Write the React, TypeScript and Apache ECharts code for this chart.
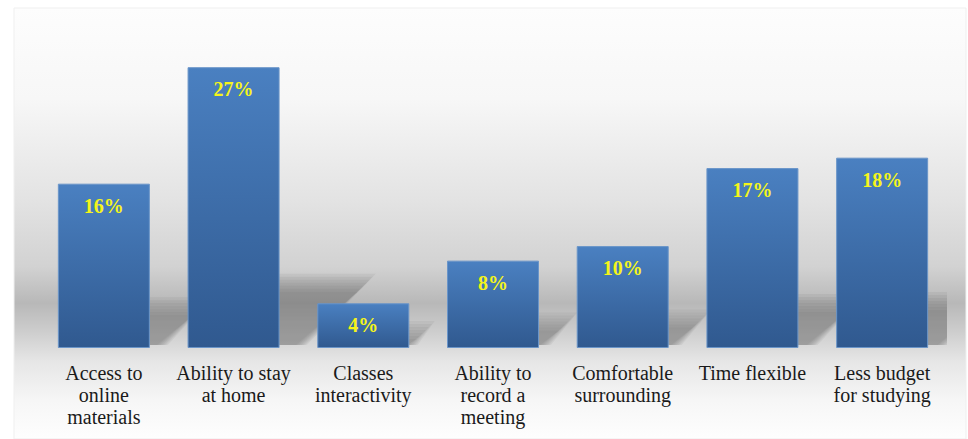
import React, { useEffect, useRef } from "react";
import * as echarts from "echarts";

const categories = [
  "Access to\nonline\nmaterials",
  "Ability to stay\nat home",
  "Classes\ninteractivity",
  "Ability to\nrecord a\nmeeting",
  "Comfortable\nsurrounding",
  "Time flexible",
  "Less budget\nfor studying",
];
const values = [15.8, 27, 4.3, 8.4, 9.8, 17.3, 18.3];

export default function App() {
  const ref = useRef<HTMLDivElement>(null);
  useEffect(() => {
    if (!ref.current) return;
    const chart = echarts.init(ref.current, null, { renderer: "svg" });
    const shadowData = values.map((v, i) => [i, v]);
    chart.setOption({
      animation: false,
      backgroundColor: "#ffffff",
      graphic: [
        {
          type: "rect",
          z: -10,
          silent: true,
          shape: { x: 14, y: 8, width: 952, height: 431 },
          style: {
            stroke: "#efefef",
            lineWidth: 1,
            fill: new echarts.graphic.LinearGradient(0, 0, 0, 1, [
              { offset: 0, color: "#fdfdfd" },
              { offset: 0.21, color: "#f7f7f7" },
              { offset: 0.445, color: "#e3e3e3" },
              { offset: 0.6, color: "#d2d2d2" },
              { offset: 0.685, color: "#b8b8b8" },
              { offset: 0.75, color: "#cdcdcd" },
              { offset: 0.82, color: "#e6e6e6" },
              { offset: 0.91, color: "#f6f6f6" },
              { offset: 1, color: "#fefefe" },
            ]),
          },
        },
      ],
      grid: { left: 39, right: 21, top: 36, bottom: 91, containLabel: false },
      xAxis: {
        type: "category",
        data: categories,
        axisLine: { show: false },
        axisTick: { show: false },
        axisLabel: {
          interval: 0,
          margin: 14,
          fontFamily: "'Liberation Serif', 'DejaVu Serif', serif",
          fontSize: 20,
          lineHeight: 22,
          color: "#1a1a1a",
        },
      },
      yAxis: {
        type: "value",
        min: 0,
        max: 30,
        show: false,
        splitLine: { show: false },
      },
      series: [
        {
          type: "custom",
          z: 1,
          silent: true,
          clip: true,
          data: shadowData,
          encode: { x: 0, y: 1 },
          renderItem: (params: any, api: any) => {
            const base = api.coord([api.value(0), 0]);
            const top = api.coord([api.value(0), api.value(1)]);
            const R = base[0] + 40;
            const B = base[1];
            const h = B - top[1];
            const children: any[] = [];
            const layers = 7;
            for (let k = layers - 1; k >= 0; k--) {
              const e = k * 3;
              children.push({
                type: "polygon",
                shape: {
                  points: [
                    [R, B - 3],
                    [R, B - 0.2 * h - e],
                    [R + 0.3 * h + e, B - 0.2 * h - e],
                    [R + 0.08 * h + e * 0.6, B - 3],
                  ],
                },
                style: { fill: "rgba(105,105,105,0.09)" },
              });
            }
            return { type: "group", children };
          },
        },
        {
          type: "bar",
          z: 2,
          data: values,
          barWidth: 92,
          itemStyle: {
            borderColor: "#6a95c9",
            borderWidth: 1,
            color: new echarts.graphic.LinearGradient(0, 0, 0, 1, [
              { offset: 0, color: "#4a80c1" },
              { offset: 1, color: "#30598f" },
            ]),
          },
          label: {
            show: true,
            position: "insideTop",
            distance: 12,
            formatter: (p: any) => Math.round(p.value) + "%",
            color: "#f5f51a",
            fontFamily: "'Liberation Serif', serif",
            fontWeight: "bold",
            fontSize: 20,
          },
        },
      ],
    });
    return () => chart.dispose();
  }, []);
  return (
    <div
      ref={ref}
      style={{ position: "fixed", left: 0, top: 0, width: 968, height: 439 }}
    />
  );
}
